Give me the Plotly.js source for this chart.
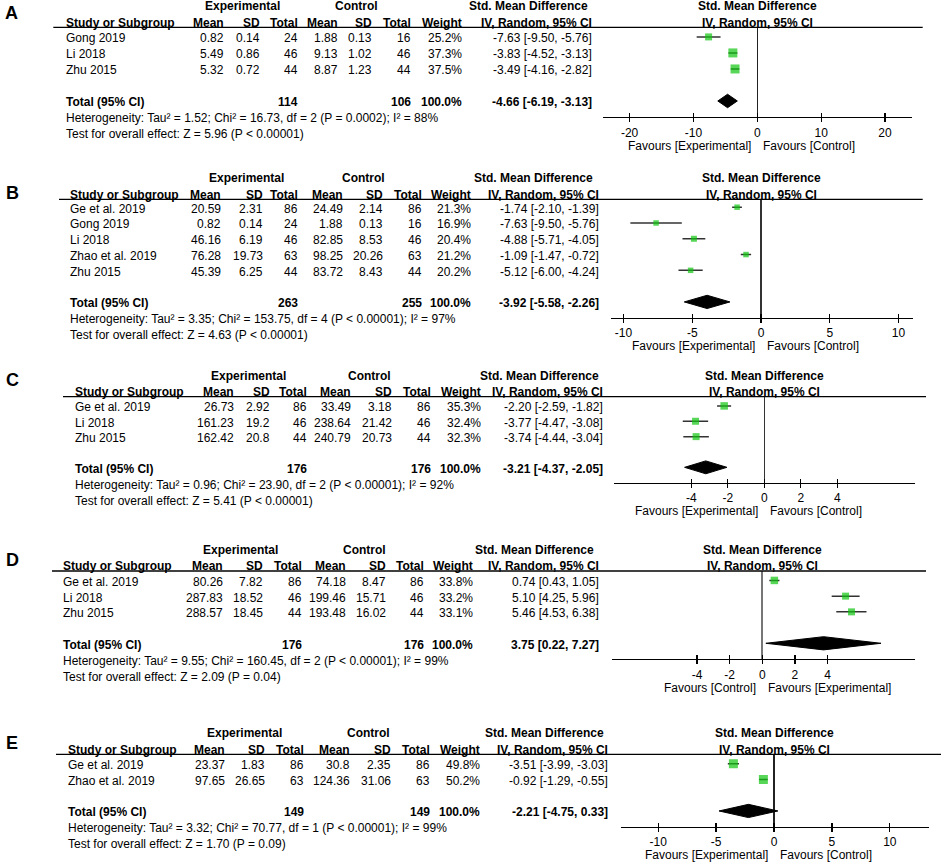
<!DOCTYPE html>
<html><head><meta charset="utf-8">
<script src="https://cdn.plot.ly/plotly-3.0.1.min.js"></script>
<style>html,body{margin:0;padding:0;background:#fff}#chart{width:941px;height:863px}</style>
</head><body><div id="chart"></div>
<script>
// ================= DATA =================
// Panel A
const studiesA = ['Gong 2019','Li 2018','Zhu 2015'];
const expMeanA = [0.82,5.49,5.32];
const expSdA   = [0.14,0.86,0.72];
const expNA    = [24,46,44];
const ctlMeanA = [1.88,9.13,8.87];
const ctlSdA   = [0.13,1.02,1.23];
const ctlNA    = [16,46,44];
const weightA  = [25.2,37.3,37.5];
const smdA     = [-7.63,-3.83,-3.49];
const lowA     = [-9.50,-4.52,-4.16];
const highA    = [-5.76,-3.13,-2.82];
const totalA   = [114,106,-4.66,-6.19,-3.13]; // nExp, nCtl, smd, low, high
const hetA  = 'Heterogeneity: Tau² = 1.52; Chi² = 16.73, df = 2 (P = 0.0002); I² = 88%';
const testA = 'Test for overall effect: Z = 5.96 (P < 0.00001)';
const favoursA = ['Favours [Experimental]','Favours [Control]'];
const ticksA = [-20,-10,0,10,20];

// Panel B
const studiesB = ['Ge et al. 2019','Gong 2019','Li 2018','Zhao et al. 2019','Zhu 2015'];
const expMeanB = [20.59,0.82,46.16,76.28,45.39];
const expSdB   = [2.31,0.14,6.19,19.73,6.25];
const expNB    = [86,24,46,63,44];
const ctlMeanB = [24.49,1.88,82.85,98.25,83.72];
const ctlSdB   = [2.14,0.13,8.53,20.26,8.43];
const ctlNB    = [86,16,46,63,44];
const weightB  = [21.3,16.9,20.4,21.2,20.2];
const smdB     = [-1.74,-7.63,-4.88,-1.09,-5.12];
const lowB     = [-2.10,-9.50,-5.71,-1.47,-6.00];
const highB    = [-1.39,-5.76,-4.05,-0.72,-4.24];
const totalB   = [263,255,-3.92,-5.58,-2.26];
const hetB  = 'Heterogeneity: Tau² = 3.35; Chi² = 153.75, df = 4 (P < 0.00001); I² = 97%';
const testB = 'Test for overall effect: Z = 4.63 (P < 0.00001)';
const favoursB = ['Favours [Experimental]','Favours [Control]'];
const ticksB = [-10,-5,0,5,10];

// Panel C
const studiesC = ['Ge et al. 2019','Li 2018','Zhu 2015'];
const expMeanC = [26.73,161.23,162.42];
const expSdC   = [2.92,19.2,20.8];
const expNC    = [86,46,44];
const ctlMeanC = [33.49,238.64,240.79];
const ctlSdC   = [3.18,21.42,20.73];
const ctlNC    = [86,46,44];
const weightC  = [35.3,32.4,32.3];
const smdC     = [-2.20,-3.77,-3.74];
const lowC     = [-2.59,-4.47,-4.44];
const highC    = [-1.82,-3.08,-3.04];
const totalC   = [176,176,-3.21,-4.37,-2.05];
const hetC  = 'Heterogeneity: Tau² = 0.96; Chi² = 23.90, df = 2 (P < 0.00001); I² = 92%';
const testC = 'Test for overall effect: Z = 5.41 (P < 0.00001)';
const favoursC = ['Favours [Experimental]','Favours [Control]'];
const ticksC = [-4,-2,0,2,4];

// Panel D
const studiesD = ['Ge et al. 2019','Li 2018','Zhu 2015'];
const expMeanD = [80.26,287.83,288.57];
const expSdD   = [7.82,18.52,18.45];
const expND    = [86,46,44];
const ctlMeanD = [74.18,199.46,193.48];
const ctlSdD   = [8.47,15.71,16.02];
const ctlND    = [86,46,44];
const weightD  = [33.8,33.2,33.1];
const smdD     = [0.74,5.10,5.46];
const lowD     = [0.43,4.25,4.53];
const highD    = [1.05,5.96,6.38];
const totalD   = [176,176,3.75,0.22,7.27];
const hetD  = 'Heterogeneity: Tau² = 9.55; Chi² = 160.45, df = 2 (P < 0.00001); I² = 99%';
const testD = 'Test for overall effect: Z = 2.09 (P = 0.04)';
const favoursD = ['Favours [Control]','Favours [Experimental]'];
const ticksD = [-4,-2,0,2,4];

// Panel E
const studiesE = ['Ge et al. 2019','Zhao et al. 2019'];
const expMeanE = [23.37,97.65];
const expSdE   = [1.83,26.65];
const expNE    = [86,63];
const ctlMeanE = [30.8,124.36];
const ctlSdE   = [2.35,31.06];
const ctlNE    = [86,63];
const weightE  = [49.8,50.2];
const smdE     = [-3.51,-0.92];
const lowE     = [-3.99,-1.29];
const highE    = [-3.03,-0.55];
const totalE   = [149,149,-2.21,-4.75,0.33];
const hetE  = 'Heterogeneity: Tau² = 3.32; Chi² = 70.77, df = 1 (P < 0.00001); I² = 99%';
const testE = 'Test for overall effect: Z = 1.70 (P = 0.09)';
const favoursE = ['Favours [Experimental]','Favours [Control]'];
const ticksE = [-10,-5,0,5,10];

const panelLabels = ['A','B','C','D','E'];
const headerGroups = ['Experimental','Control','Std. Mean Difference'];
const headerCols = ['Study or Subgroup','Mean','SD','Total','Mean','SD','Total','Weight','IV, Random, 95% CI'];
const totalLabel = 'Total (95% CI)';
const totalWeight = '100.0%';

// ================= LAYOUT / STYLE =================
const W = 941, H = 863;
const FONT = 'Liberation Sans, Arial, Helvetica, sans-serif';
const GREEN = '#10c410';

const data = [
  {studies:studiesA, em:expMeanA, es:expSdA, en:expNA, cm:ctlMeanA, cs:ctlSdA, cn:ctlNA, w:weightA, smd:smdA, lo:lowA, hi:highA, tot:totalA, het:hetA, test:testA, fav:favoursA, ticks:ticksA},
  {studies:studiesB, em:expMeanB, es:expSdB, en:expNB, cm:ctlMeanB, cs:ctlSdB, cn:ctlNB, w:weightB, smd:smdB, lo:lowB, hi:highB, tot:totalB, het:hetB, test:testB, fav:favoursB, ticks:ticksB},
  {studies:studiesC, em:expMeanC, es:expSdC, en:expNC, cm:ctlMeanC, cs:ctlSdC, cn:ctlNC, w:weightC, smd:smdC, lo:lowC, hi:highC, tot:totalC, het:hetC, test:testC, fav:favoursC, ticks:ticksC},
  {studies:studiesD, em:expMeanD, es:expSdD, en:expND, cm:ctlMeanD, cs:ctlSdD, cn:ctlND, w:weightD, smd:smdD, lo:lowD, hi:highD, tot:totalD, het:hetD, test:testD, fav:favoursD, ticks:ticksD},
  {studies:studiesE, em:expMeanE, es:expSdE, en:expNE, cm:ctlMeanE, cs:ctlSdE, cn:ctlNE, w:weightE, smd:smdE, lo:lowE, hi:highE, tot:totalE, het:hetE, test:testE, fav:favoursE, ticks:ticksE}
];

// geometry in pixels
const geo = [
  {hdr:27.3, axis:117, yTop:-0.6, yBot:5, xDom:[603,911.7], range:[-24.17,24.18], lineX:[53.3,922.7], label:[11,13],
   cols:[65,225,260.7,299.3,339.3,373.3,411.7,462.7,592.7], grp:[242.2,356.7,528.8], sizes:[7,9,9], zc:'#222', zw:1.3},
  {hdr:199.3, axis:317.7, yTop:-0.5, yBot:7, xDom:[610.7,912.7], range:[-10.93,11.03], lineX:[59,922.7], label:[12,193],
   cols:[69,222,264.4,298.9,343.7,384.3,423.4,472,600], grp:[246,363,533.5], sizes:[5.5,5.5,6,5.5,5.5], zc:'#333', zw:1.3},
  {hdr:396.7, axis:482.7, yTop:-0.6, yBot:5, xDom:[614,915], range:[-8.24,8.26], lineX:[63,926], label:[12,380],
   cols:[74,235,271,307.7,351.7,392.7,432,482,604], grp:[249,369,539.5], sizes:[7.5,7,7], zc:'#333', zw:1.3},
  {hdr:571, axis:659, yTop:-0.6, yBot:5, xDom:[611.7,915], range:[-9.22,9.35], lineX:[52,926], label:[12,560],
   cols:[62,224,264,302.7,346.7,387,425.3,474.3,600], grp:[240,364.4,534.5], sizes:[7.5,7,7], zc:'#777', zw:2},
  {hdr:754.3, axis:826.7, yTop:-0.6, yBot:4, xDom:[620.7,929], range:[-13.24,13.38], lineX:[56,941], label:[12,743],
   cols:[67,226,266.3,304.6,350.6,391.6,431,480.8,609], grp:[244,368.4,544.5], sizes:[9,9], zc:'#222', zw:1.3}
];

const f2 = v => v.toFixed(2);
const ciText = (s,l,h) => f2(s) + ' [' + f2(l) + ', ' + f2(h) + ']';

function ann(text, x, y, anchor, bold, size) {
  return {text: bold ? '<b>'+text+'</b>' : text, x: x/W, y: 1 - y/H, xref:'paper', yref:'paper',
    xanchor: anchor, yanchor:'middle', showarrow:false, borderpad:0,
    font:{family:FONT, size: size || 12, color:'#000'}};
}

const traces = [], annotations = [], shapes = [];
const layout = {
  width:W, height:H, margin:{l:0,r:0,t:0,b:0}, paper_bgcolor:'#fff', plot_bgcolor:'rgba(0,0,0,0)',
  showlegend:false, font:{family:FONT, size:12, color:'#000'}
};

data.forEach((d, k) => {
  const g = geo[k];
  const n = d.studies.length;
  const rows = d.studies.map((_, i) => i);
  const totRow = n + 1;
  const rowPx = r => g.hdr + (r - g.yTop) / (g.yBot - g.yTop) * (g.axis - g.hdr);
  const xa = 'x' + (k+1), ya = 'y' + (k+1);
  const xo = 'x' + (k+6);

  // axes
  layout['xaxis' + (k+1)] = {
    domain:[g.xDom[0]/W, g.xDom[1]/W], anchor:ya, range:g.range, fixedrange:true,
    tickmode:'array', tickvals:d.ticks, ticktext:d.ticks.map(String),
    ticks:'outside', ticklen:4, tickwidth:1.3, tickcolor:'#000',
    showline:true, linewidth:1.3, linecolor:'#000', showgrid:false,
    zeroline:true, zerolinecolor:g.zc, zerolinewidth:g.zw,
    tickfont:{family:FONT, size:12, color:'#000'}
  };
  layout['xaxis' + (k+6)] = {
    overlaying:xa, anchor:ya, range:g.range, fixedrange:true,
    tickmode:'array', tickvals:d.ticks, ticks:'inside', ticklen:4, tickwidth:1.3, tickcolor:'#000',
    showticklabels:false, showline:false, showgrid:false, zeroline:false
  };
  layout['yaxis' + (k+1)] = {
    domain:[1 - g.axis/H, 1 - g.hdr/H], anchor:xa, range:[g.yBot, g.yTop], fixedrange:true, visible:false
  };

  // dummy trace to materialise the overlay tick axis
  traces.push({type:'scatter', x:[], y:[], xaxis:xo, yaxis:ya, hoverinfo:'skip', showlegend:false});

  // study squares with CI whiskers
  traces.push({
    type:'scatter', mode:'markers', x:d.smd, y:rows, xaxis:xa, yaxis:ya, hoverinfo:'skip', cliponaxis:false,
    marker:{symbol:'square', size:g.sizes, color:GREEN, line:{width:0}},
    error_x:{type:'data', symmetric:false,
      array:d.hi.map((h,i) => h - d.smd[i]), arrayminus:d.lo.map((l,i) => d.smd[i] - l),
      color:'#333', thickness:1.5, width:0}
  });

  // pooled diamond
  const t = d.tot;
  traces.push({
    type:'scatter', mode:'lines', xaxis:xa, yaxis:ya, hoverinfo:'skip', fill:'toself', fillcolor:'#000',
    x:[t[3], t[2], t[4], t[2], t[3]],
    y:[totRow, totRow - 0.42, totRow, totRow + 0.42, totRow],
    line:{color:'#000', width:1}
  });

  // header rule
  shapes.push({type:'line', xref:'paper', yref:'paper', x0:g.lineX[0]/W, x1:g.lineX[1]/W,
    y0:1 - g.hdr/H, y1:1 - g.hdr/H, line:{color:'#000', width:1.3}});

  // panel label
  annotations.push(ann(panelLabels[k], g.label[0], g.label[1], 'center', true, 18));

  // table headers
  const h1 = g.hdr - 21, h2 = g.hdr - 4.8;
  annotations.push(ann(headerGroups[0], g.grp[0], h1, 'center', true));
  annotations.push(ann(headerGroups[1], g.grp[1], h1, 'center', true));
  annotations.push(ann(headerGroups[2], g.grp[2], h1, 'center', true));
  headerCols.forEach((c, j) => annotations.push(ann(c, g.cols[j], h2, j === 0 ? 'left' : 'right', true)));

  // study rows
  d.studies.forEach((s, i) => {
    const y = rowPx(i) + 1.5;
    const vals = [s, String(d.em[i]), String(d.es[i]), String(d.en[i]), String(d.cm[i]), String(d.cs[i]),
      String(d.cn[i]), d.w[i].toFixed(1) + '%', ciText(d.smd[i], d.lo[i], d.hi[i])];
    vals.forEach((v, j) => annotations.push(ann(v, g.cols[j], y, j === 0 ? 'left' : 'right', false)));
  });

  // total row
  const ty = rowPx(totRow) + 1.5;
  annotations.push(ann(totalLabel, g.cols[0], ty, 'left', true));
  annotations.push(ann(String(t[0]), g.cols[3], ty, 'right', true));
  annotations.push(ann(String(t[1]), g.cols[6], ty, 'right', true));
  annotations.push(ann(totalWeight, g.cols[7], ty, 'right', true));
  annotations.push(ann(ciText(t[2], t[3], t[4]), g.cols[8], ty, 'right', true));
  annotations.push(ann(d.het, g.cols[0], rowPx(totRow) + 17.5, 'left', false));
  annotations.push(ann(d.test, g.cols[0], rowPx(totRow) + 33.5, 'left', false));

  // plot headers (centred on zero)
  [[headerGroups[2], h1], [headerCols[8], h2]].forEach(([txt, yy]) => {
    annotations.push({text:'<b>'+txt+'</b>', x:0, xref:xa, y:1 - yy/H, yref:'paper', xanchor:'center', yanchor:'middle',
      showarrow:false, borderpad:0, font:{family:FONT, size:12, color:'#000'}});
  });

  // favours labels
  const fy = 1 - (g.axis + 28.5)/H;
  annotations.push({text:d.fav[0], x:0, xref:xa, y:fy, yref:'paper', xanchor:'right', yanchor:'middle', xshift:-5,
    showarrow:false, borderpad:0, font:{family:FONT, size:12, color:'#000'}});
  annotations.push({text:d.fav[1], x:0, xref:xa, y:fy, yref:'paper', xanchor:'left', yanchor:'middle', xshift:5,
    showarrow:false, borderpad:0, font:{family:FONT, size:12, color:'#000'}});
});

layout.annotations = annotations;
layout.shapes = shapes;

Plotly.newPlot('chart', traces, layout, {staticPlot:true, displayModeBar:false});
</script>
</body></html>
